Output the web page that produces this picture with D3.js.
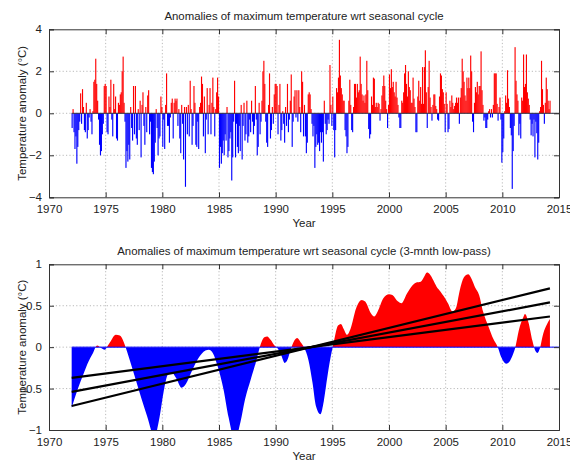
<!DOCTYPE html>
<html>
<head>
<meta charset="utf-8">
<script src="https://cdn.jsdelivr.net/npm/d3@7"></script>
<style>
  html, body { margin: 0; padding: 0; background: #fff; }
  svg { display: block; font-family: "Liberation Sans", Arial, Helvetica, sans-serif; }
</style>
</head>
<body>
<svg id="chart" width="570" height="461"></svg>
<script>
// Monthly anomalies of maximum temperature (°C), one row per year, Jan..Dec
const startYear = 1972;
const monthlyAnomaly = [
  /*1972*/ [-0.7, 0.2, -0.9, -1.7, -1.1, -2.4, -1.6, -0.8, -0.4, 0.95, -0.5, 1.15],
  /*1973*/ [0.3, -0.8, -0.9, 0.5, -1.2, -0.8, -0.2, 0.2, -0.4, -1.0, 0.1, 1.5],
  /*1974*/ [1.6, 2.6, 1.4, 0.6, -0.3, -1.5, -2.0, -1.8, -1.0, -0.5, 1.3, 1.4],
  /*1975*/ [1.3, -0.9, -1.0, 0.8, 0.3, 1.6, -0.3, -1.1, 1.4, 0.2, 0.8, -1.2],
  /*1976*/ [-1.3, 0.5, 0.4, 0.9, 1.0, 2.0, 2.7, 0.5, -0.4, -2.6, -1.8, -2.3],
  /*1977*/ [-1.5, -2.2, 0.3, -0.7, -1.3, 1.3, -1.0, 1.3, -1.2, -1.5, 0.2, -0.8],
  /*1978*/ [0.6, -2.1, 0.4, 1.0, -0.6, -1.5, 0.3, -0.9, 0.85, 1.1, -1.0, -0.4],
  /*1979*/ [-2.6, -2.8, -2.9, -2.3, -1.4, 0.2, -0.7, -2.0, -1.2, -1.1, 0.8, 0.3],
  /*1980*/ [-1.6, -0.3, -1.7, 0.4, 1.9, -0.6, -0.6, -1.4, -0.2, 0.5, 0.7, -1.2],
  /*1981*/ [0.5, 0.7, 0.6, 0.7, -0.6, 0.2, -1.2, -1.9, 0.4, -0.5, -2.2, 0.3],
  /*1982*/ [-3.5, 0.3, -1.0, 0.4, -1.1, 1.55, 0.2, -1.5, -0.6, 1.3, 0.5, -1.5],
  /*1983*/ [-1.6, -0.4, -1.7, 0.3, 0.5, 1.75, 1.4, -1.1, 0.8, -1.9, -0.3, 1.2],
  /*1984*/ [-1.0, 0.4, 1.2, -1.0, 0.5, 1.7, 0.3, -1.1, 0.2, 1.0, 1.7, 0.8],
  /*1985*/ [-2.6, -1.6, -2.4, -1.9, -1.3, -2.0, -1.0, -1.3, 0.3, -2.1, -1.8, -1.2],
  /*1986*/ [-0.9, -3.2, -2.1, -0.4, 1.55, -2.1, -0.5, -1.6, -1.9, -0.6, -1.8, 0.4],
  /*1987*/ [-2.2, -0.6, 0.5, -1.3, -1.0, 0.6, -1.4, -1.1, -0.3, -0.9, 0.6, -0.4],
  /*1988*/ [-1.0, -0.6, 1.3, -0.3, -2.0, -1.6, 0.5, -1.0, -0.4, 0.6, 2.0, 2.5],
  /*1989*/ [1.4, -0.4, -1.4, -1.6, 0.4, 1.9, -1.2, -0.8, 0.3, -0.5, 0.9, 1.4],
  /*1990*/ [1.4, 1.3, -1.0, 0.4, 1.4, -1.3, -0.8, 0.1, -0.5, -1.4, 0.3, -0.6],
  /*1991*/ [1.4, -0.9, -0.3, 0.6, 1.85, -1.6, -0.4, 0.8, 1.1, -0.2, 1.1, -0.4],
  /*1992*/ [1.1, 0.3, -0.9, 2.0, 1.5, -1.1, 0.4, -1.1, -1.9, -1.4, 0.9, 1.0],
  /*1993*/ [0.9, 0.2, -0.5, -1.1, -0.6, -2.6, -1.6, -1.0, -1.5, -1.4, -1.8, -0.9],
  /*1994*/ [-1.4, -0.9, -2.3, 0.6, -0.5, -1.0, -0.8, -0.3, -0.5, 2.3, 0.4, -0.6],
  /*1995*/ [0.8, -0.8, -2.1, -0.8, 1.2, 1.0, 1.7, 3.5, 1.8, 1.2, 0.9, 0.6],
  /*1996*/ [0.6, -0.8, -1.1, -1.9, -1.6, 0.6, 1.6, 0.4, -0.8, -0.9, 0.3, 1.4],
  /*1997*/ [1.4, 0.75, 1.4, 1.0, 1.1, 2.7, 1.4, 0.9, 0.6, 0.85, 0.5, 0.9],
  /*1998*/ [2.5, 1.1, -0.75, -1.2, -1.0, 0.8, 0.4, 1.7, 1.65, 0.3, 0.5, 0.3],
  /*1999*/ [0.5, 0.45, -0.35, 0.2, 0.85, 1.3, 1.8, 1.3, 0.6, 0.2, -0.7, 0.4],
  /*2000*/ [1.85, 1.2, 2.1, 1.25, 1.5, 1.0, 0.8, 1.5, 0.75, 0.4, -0.2, -0.7],
  /*2001*/ [-0.7, 0.6, 0.5, 1.0, 1.9, 2.3, 1.4, 0.8, 2.0, 1.25, 1.1, 0.5],
  /*2002*/ [0.5, 1.7, 0.7, 0.3, -0.9, -0.9, 0.8, 1.55, 0.6, 1.25, 0.45, 2.2],
  /*2003*/ [0.45, 2.2, 3.0, 1.0, -0.7, 1.25, 2.5, 0.75, 0.3, -0.35, 0.4, 0.9],
  /*2004*/ [0.9, 0.35, 0.2, -0.3, -0.35, 0.8, 1.9, 1.8, 1.15, 1.0, 0.45, -0.9],
  /*2005*/ [1.0, 0.45, -0.9, -0.75, 0.6, 0.3, 0.85, 0.5, 0.2, 0.35, 0.5, 0.75],
  /*2006*/ [0.5, 0.75, -0.5, 0.75, 1.2, 2.6, 2.0, 1.5, 0.85, 0.6, 1.7, 1.2],
  /*2007*/ [1.7, 1.2, 2.75, 2.0, -0.4, -0.9, 0.5, 1.25, 1.0, 1.5, 0.9, 1.3],
  /*2008*/ [1.3, 2.95, 1.1, 0.4, -0.35, -0.2, -0.7, -0.7, -0.3, 0.1, 0.2, -0.2],
  /*2009*/ [0.2, -0.2, 0.4, 1.9, 1.9, 1.9, 0.45, -0.35, 0.3, 0.75, -0.3, -2.35],
  /*2010*/ [-1.85, -1.2, 0.1, 0.85, 0.5, 2.05, 0.7, 0.3, -0.7, -1.05, -3.6, -1.8],
  /*2011*/ [-0.6, 3.15, 1.55, 0.9, 0.6, -1.05, -0.5, -1.2, 0.75, 0.6, 2.8, 1.25],
  /*2012*/ [1.4, 2.8, 1.0, 0.7, 0.4, -0.3, -1.05, -0.5, -1.1, -0.3, -2.1, -0.4],
  /*2013*/ [-0.95, -2.2, -1.4, 0.1, 0.3, 2.5, 1.15, 0.4, -0.5, 0.5, 1.7, 1.15],
  /*2014*/ [0.6, 0.2, 0.6]
];

// Low-pass filtered anomaly (°C) sampled at decimal years
const lowPassYears = [
  1972.0, 1972.5, 1973.05, 1973.5, 1973.85, 1974.25, 1974.6, 1974.9, 1975.3, 1975.9,
  1976.25, 1976.6, 1976.9, 1977.4, 1978.0, 1978.65, 1979.3, 1979.75, 1980.1, 1980.5,
  1980.85, 1981.2, 1981.7, 1982.1, 1982.5, 1983.15, 1983.8, 1984.1, 1984.45, 1984.9,
  1985.4, 1985.85, 1986.4, 1986.9, 1987.3, 1987.8, 1988.3, 1988.6, 1989.0, 1989.25,
  1989.55, 1989.9, 1990.2, 1990.5, 1990.8, 1991.05, 1991.3, 1991.65, 1991.9, 1992.2,
  1992.5, 1992.9, 1993.25, 1993.55, 1993.95, 1994.25, 1994.55, 1994.85, 1995.1, 1995.5,
  1995.75, 1996.0, 1996.3, 1996.6, 1997.1, 1997.6, 1997.9, 1998.4, 1998.7, 1999.0,
  1999.5, 2000.0, 2000.3, 2000.8, 2001.1, 2001.6, 2002.1, 2002.4, 2002.8, 2003.1,
  2003.35, 2003.6, 2003.9, 2004.2, 2004.55, 2004.85, 2005.2, 2005.6, 2005.9, 2006.25,
  2006.6, 2007.0, 2007.3, 2007.6, 2007.95, 2008.3, 2008.8, 2009.2, 2009.6, 2009.9,
  2010.35, 2010.6, 2010.9, 2011.15, 2011.45, 2011.85, 2012.0, 2012.3, 2012.65, 2012.9,
  2013.1, 2013.3, 2013.6, 2013.95, 2014.2
];
const lowPassValues = [
  -0.73, -0.52, -0.32, -0.17, -0.08, 0.02, -0.01, -0.03, 0.04, 0.15,
  0.14, 0.06, -0.06, -0.28, -0.55, -0.83, -1.08, -0.85, -0.55, -0.33,
  -0.31, -0.37, -0.49, -0.44, -0.32, -0.14, -0.04, -0.03, -0.07, -0.24,
  -0.51, -0.85, -1.12, -0.9, -0.63, -0.39, -0.16, 0.0, 0.12, 0.13,
  0.09, 0.02, -0.02, -0.1, -0.19, -0.15, -0.04, 0.08, 0.11, 0.06,
  0.0, -0.16, -0.43, -0.71, -0.81, -0.65, -0.37, -0.12, 0.04, 0.26,
  0.28, 0.22, 0.15, 0.22, 0.47, 0.57, 0.55, 0.41, 0.37, 0.43,
  0.59, 0.64, 0.63, 0.55, 0.53, 0.65, 0.75, 0.78, 0.79, 0.85,
  0.9, 0.88, 0.81, 0.73, 0.67, 0.61, 0.53, 0.43, 0.47, 0.69,
  0.84, 0.88, 0.82, 0.72, 0.63, 0.43, 0.24, 0.1, 0.0, -0.12,
  -0.2, -0.18, -0.1, 0.0, 0.2, 0.36, 0.4, 0.3, 0.08, -0.04,
  -0.07, -0.02, 0.16, 0.28, 0.34
];

// Linear trend lines: value at the first and last year of the record
const trendYears = [1972.0, 2014.2];
const trendStart = [-0.71, -0.54, -0.37];
const trendEnd = [0.71, 0.54, 0.37];

// Axis ticks and text
const xTicks = [1970, 1975, 1980, 1985, 1990, 1995, 2000, 2005, 2010, 2015];
const yTicksTop = [-4, -2, 0, 2, 4];
const yTicksBottom = [-1, -0.5, 0, 0.5, 1];
const titleTop = "Anomalies of maximum temperature wrt seasonal cycle";
const titleBottom = "Anomalies of maximum temperature wrt seasonal cycle (3-mnth low-pass)";
const xLabel = "Year";
const yLabel = "Temperature anomaly (°C)";

// ---- drawing ----
const svg = d3.select("#chart");
const RED = "#ff0000", BLUE = "#0000ff";
const left = 49, right = 559;

const months = [];
monthlyAnomaly.forEach((row, yi) => row.forEach((v, m) => {
  months.push({ t: startYear + yi + (m + 0.5) / 12, v });
}));

function panel(top, bottom, yDomain, yTicks, title, id) {
  const x = d3.scaleLinear().domain([1970, 2015]).range([left, right]);
  const y = d3.scaleLinear().domain(yDomain).range([bottom, top]);
  const g = svg.append("g");

  // grid
  const grid = g.append("g").attr("stroke", "#a8a8a8").attr("stroke-width", 0.8)
    .attr("stroke-dasharray", "1.2,2.2");
  xTicks.slice(1, -1).forEach(t => grid.append("line")
    .attr("x1", x(t)).attr("x2", x(t)).attr("y1", top).attr("y2", bottom));
  yTicks.slice(1, -1).forEach(t => grid.append("line")
    .attr("x1", left).attr("x2", right).attr("y1", y(t)).attr("y2", y(t)));

  svg.append("clipPath").attr("id", "clip-" + id).append("rect")
    .attr("x", left).attr("y", top).attr("width", right - left).attr("height", bottom - top);

  const plot = g.append("g").attr("clip-path", `url(#clip-${id})`);

  // axes with inward ticks on all four sides
  const fmt = d3.format("");
  const axB = d3.axisBottom(x).tickValues(xTicks).tickSize(-5).tickPadding(8).tickFormat(fmt);
  const axT = d3.axisTop(x).tickValues(xTicks).tickSize(-5).tickFormat("");
  const axL = d3.axisLeft(y).tickValues(yTicks).tickSize(-5).tickPadding(7).tickFormat(d3.format(""));
  const axR = d3.axisRight(y).tickValues(yTicks).tickSize(-5).tickFormat("");
  const axes = g.append("g");
  axes.append("g").attr("transform", `translate(0,${bottom})`).call(axB);
  axes.append("g").attr("transform", `translate(0,${top})`).call(axT);
  axes.append("g").attr("transform", `translate(${left},0)`).call(axL);
  axes.append("g").attr("transform", `translate(${right},0)`).call(axR);
  axes.selectAll(".domain").attr("stroke", "#333").attr("stroke-width", 1);
  axes.selectAll(".tick line").attr("stroke", "#333");
  axes.selectAll("text").attr("fill", "#222").attr("font-size", 11.5)
    .attr("font-family", "'Liberation Sans', Arial, sans-serif");

  // title and labels
  g.append("text").attr("x", (left + right) / 2).attr("y", top - 9)
    .attr("text-anchor", "middle").attr("font-size", 11.4).attr("fill", "#222").text(title);
  g.append("text").attr("x", (left + right) / 2).attr("y", bottom + 30)
    .attr("text-anchor", "middle").attr("font-size", 11.5).attr("fill", "#222").text(xLabel);
  g.append("text").attr("transform", `translate(${26},${(top + bottom) / 2}) rotate(-90)`)
    .attr("text-anchor", "middle").attr("font-size", 11.5).attr("fill", "#222").text(yLabel);

  return { x, y, plot, g };
}

// Top panel: monthly bars
{
  const { x, y, plot } = panel(29.3, 197.3, [-4, 4], yTicksTop, titleTop, "top");
  const w = (x(1971) - x(1970)) / 12 * 1.2;
  plot.selectAll("rect.bar").data(months).join("rect")
    .attr("class", "bar")
    .attr("x", d => x(d.t) - w / 2)
    .attr("width", w)
    .attr("y", d => Math.min(y(d.v), y(0)))
    .attr("height", d => Math.abs(y(d.v) - y(0)))
    .attr("fill", d => d.v >= 0 ? RED : BLUE);
  plot.append("line").attr("x1", x(startYear)).attr("x2", right)
    .attr("y1", y(0)).attr("y2", y(0)).attr("stroke", "#334").attr("stroke-width", 1);
}

// Bottom panel: filled low-pass curve with trend lines
{
  const top = 264.3, bottom = 430;
  const { x, y, plot } = panel(top, bottom, [-1, 1], yTicksBottom, titleBottom, "bot");
  const pts = lowPassYears.map((t, i) => ({ t, v: lowPassValues[i] }));
  const area = d3.area().x(d => x(d.t)).y0(y(0)).y1(d => y(d.v)).curve(d3.curveMonotoneX);

  svg.append("clipPath").attr("id", "clip-pos").append("rect")
    .attr("x", left).attr("y", top).attr("width", right - left).attr("height", y(0) - top);
  svg.append("clipPath").attr("id", "clip-neg").append("rect")
    .attr("x", left).attr("y", y(0)).attr("width", right - left).attr("height", bottom - y(0));

  plot.append("g").attr("clip-path", "url(#clip-pos)")
    .append("path").datum(pts).attr("d", area).attr("fill", RED);
  plot.append("g").attr("clip-path", "url(#clip-neg)")
    .append("path").datum(pts).attr("d", area).attr("fill", BLUE);

  plot.append("line").attr("x1", x(startYear)).attr("x2", right)
    .attr("y1", y(0)).attr("y2", y(0)).attr("stroke", BLUE).attr("stroke-width", 1);

  const line = d3.line().x(d => x(d[0])).y(d => y(d[1]));
  trendStart.forEach((s, i) => {
    plot.append("path")
      .datum([[trendYears[0], s], [trendYears[1], trendEnd[i]]])
      .attr("d", line).attr("fill", "none").attr("stroke", "#000").attr("stroke-width", 2.2);
  });
}
</script>
</body>
</html>
